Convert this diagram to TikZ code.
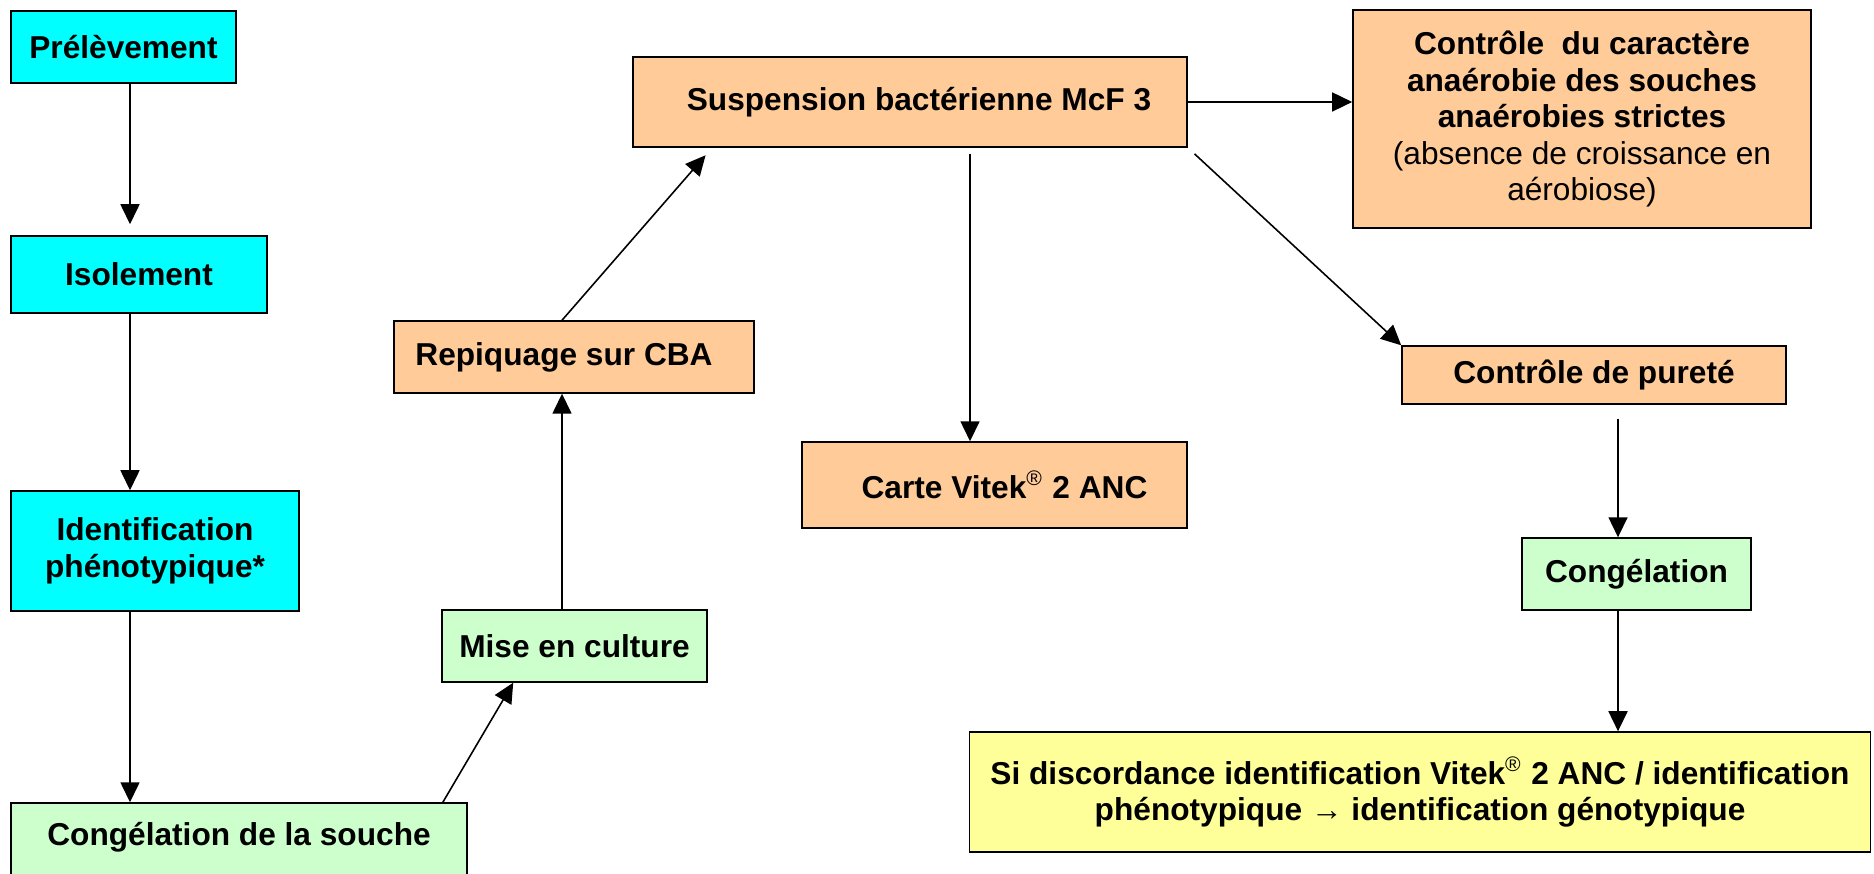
\documentclass[tikz,border=0pt]{standalone}
\usepackage{fontspec}
\setmainfont{Liberation Sans}
\usepackage{tikz}
\usetikzlibrary{arrows.meta,calc}
\usepackage{xcolor}
\definecolor{cyanbox}{RGB}{0,255,255}
\definecolor{orangebox}{RGB}{255,204,153}
\definecolor{vertbox}{RGB}{204,255,204}
\definecolor{jaunebox}{RGB}{255,255,153}
\newcommand{\regd}{\textsuperscript{\mdseries\textregistered}}

\begin{document}
\begin{tikzpicture}[x=0.01cm, y=-0.01cm, >={Triangle[length=0.2cm,width=0.19cm]},
  font=\fontsize{9}{10.38}\selectfont\bfseries, line width=0.4pt,
  etape/.style={draw, inner sep=2pt, align=center},
  lien/.style={->, line width=0.45pt}]
\useasboundingbox (0,0) rectangle (1874,874);
% colonne de gauche
\node[etape, fill=cyanbox, minimum width=2.25cm, minimum height=0.72cm] (prel) at (123.5,47) {Prélèvement};
\node[etape, fill=cyanbox, minimum width=2.56cm, minimum height=0.77cm] (isol) at (139,274.5) {Isolement};
\node[etape, fill=cyanbox, minimum width=2.88cm, minimum height=1.2cm] (ident) at (155,551) {Identification\\ phénotypique*};
\node[etape, fill=vertbox, minimum width=4.56cm, inner ysep=0pt, text height=0.42cm, text depth=0.5cm, anchor=base] (congsouche) at (239,845) {Congélation de la souche};
% milieu
\node[etape, fill=vertbox, minimum width=2.65cm, minimum height=0.72cm] (mise) at (574.5,646) {Mise en culture};
\node[etape, fill=orangebox, minimum width=3.6cm, minimum height=0.72cm] (repiq) at (574,357) {Repiquage sur CBA\hspace*{0.2cm}};
\node[etape, fill=orangebox, minimum width=5.54cm, minimum height=0.9cm] (susp) at (910,102) {\hspace*{0.18cm}Suspension bactérienne McF 3};
\node[etape, fill=orangebox, minimum width=3.85cm, minimum height=0.86cm] (carte) at (994.5,485) {\hspace*{0.2cm}Carte Vitek\regd{} 2 ANC};
% droite
\node[etape, fill=orangebox, minimum width=4.58cm, minimum height=2.18cm] (ctrl) at (1582,119) {Contrôle\ \ du caractère\\ anaérobie des souches\\ anaérobies strictes\\ {\mdseries (absence de croissance en}\\ {\mdseries aérobiose)}};
\node[etape, fill=orangebox, minimum width=3.84cm, minimum height=0.58cm] (purete) at (1594,375) {Contrôle de pureté};
\node[etape, fill=vertbox, minimum width=2.29cm, minimum height=0.72cm] (cong) at (1636.5,574) {Congélation};
\node[etape, fill=jaunebox, minimum width=9cm, minimum height=1.2cm] (si) at (1420,792) {Si discordance identification Vitek\regd{} 2 ANC / identification\\ phénotypique → identification génotypique};

\coordinate (xA) at (130,0);
\coordinate (xB) at (562,0);
\coordinate (xC) at (970,0);
\coordinate (xD) at (1618,0);

\draw[lien, shorten >=0.11cm] (prel.south -| xA) -- (isol.north -| xA);
\draw[lien] (isol.south -| xA) -- (ident.north -| xA);
\draw[lien] (ident.south -| xA) -- (congsouche.north -| xA);
\draw[lien] ($(congsouche.north east)+(-25,0)$) -- ($(mise.south west)+(72,0)$);
\draw[lien] (mise.north -| xB) -- (repiq.south -| xB);
\draw[lien, shorten >=0.1cm] (repiq.north -| xB) -- ($(susp.south west)+(80,0)$);
\draw[lien, shorten <=0.06cm] (susp.south -| xC) -- (carte.north -| xC);
\draw[lien] (susp.east) -- (susp.east -| ctrl.west);
\draw[lien, shorten <=0.09cm] (susp.south east) -- (purete.north west);
\draw[lien, shorten <=0.14cm] (purete.south -| xD) -- (cong.north -| xD);
\draw[lien] (cong.south -| xD) -- (si.north -| xD);
\end{tikzpicture}
\end{document}
